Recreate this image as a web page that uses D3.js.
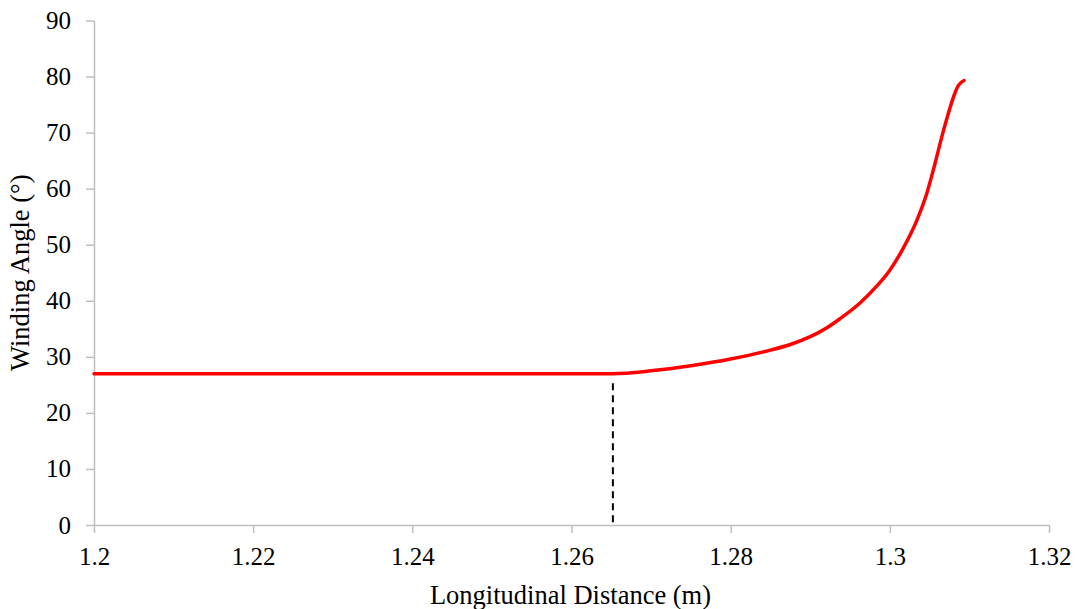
<!DOCTYPE html>
<html>
<head>
<meta charset="utf-8">
<script src="https://cdn.jsdelivr.net/npm/d3@7"></script>
<style>
  body { margin: 0; background: #fff; }
</style>
</head>
<body>
<script>
// winding angle along the mandrel
const distance = [1.2, 1.2652, 1.27, 1.275, 1.28, 1.285, 1.2875, 1.29, 1.2921, 1.29374, 1.29625, 1.29835, 1.30002, 1.30169, 1.30338, 1.30463, 1.30568, 1.30652, 1.30735, 1.30798, 1.3086, 1.30932];
const angle    = [27,  27,     27.5, 28.4,  29.6, 31.2,  32.2,   33.6, 35.2,   36.8,    39.6,    42.6,    45.5,    49.4,    54.3,    59.1,    64.5,    69.2,    73.4,    76.3,    78.4,   79.3];
const guideX = 1.2652;
const guideTop = 25.3;
const xTicks = [1.2, 1.22, 1.24, 1.26, 1.28, 1.3, 1.32];
const yTicks = [0, 10, 20, 30, 40, 50, 60, 70, 80, 90];

const font = "'Liberation Serif', 'Times New Roman', serif";
const w = 1078, h = 609;
const svg = d3.select("body").append("svg").attr("width", w).attr("height", h);

const x = d3.scaleLinear().domain([1.2, 1.32]).range([94, 1049]);
const y = d3.scaleLinear().domain([0, 90]).range([525, 20.5]);

const axisColor = "#bfbfbf";

const xAxis = svg.append("g")
  .attr("transform", `translate(0,${y(0)})`)
  .call(d3.axisBottom(x).tickValues(xTicks).tickFormat(d => String(+d.toFixed(2))).tickSizeInner(8).tickSizeOuter(0).tickPadding(14));
xAxis.selectAll("path, line").attr("stroke", axisColor).attr("stroke-width", 1.5);
xAxis.selectAll("text").attr("fill", "#000").style("font-family", font).style("font-size", "25px");

const yAxis = svg.append("g")
  .attr("transform", `translate(${x(1.2)},0)`)
  .call(d3.axisLeft(y).tickValues(yTicks).tickSizeInner(8).tickSizeOuter(0).tickPadding(15));
yAxis.selectAll("path, line").attr("stroke", axisColor).attr("stroke-width", 1.5);
yAxis.selectAll("text").attr("fill", "#000").style("font-family", font).style("font-size", "25px");

// dashed guide where the angle starts to change
svg.append("line")
  .attr("x1", x(guideX)).attr("x2", x(guideX))
  .attr("y1", y(guideTop)).attr("y2", y(0))
  .attr("stroke", "#000").attr("stroke-width", 2).attr("stroke-dasharray", "7,5");

const pts = distance.map((d, i) => [d, angle[i]]);
svg.append("path")
  .datum(pts)
  .attr("fill", "none")
  .attr("stroke", "#ff0000")
  .attr("stroke-width", 3.5)
  .attr("stroke-linecap", "round")
  .attr("d", d3.line().x(d => x(d[0])).y(d => y(d[1])).curve(d3.curveMonotoneX));

svg.append("text")
  .attr("x", (x(1.2) + x(1.32)) / 2 - 1)
  .attr("y", 604)
  .attr("text-anchor", "middle")
  .style("font-family", font)
  .style("font-size", "26.5px")
  .text("Longitudinal Distance (m)");

svg.append("text")
  .attr("transform", `translate(29,${(y(0) + y(90)) / 2}) rotate(-90)`)
  .attr("text-anchor", "middle")
  .style("font-family", font)
  .style("font-size", "26.5px")
  .text("Winding Angle (°)");
</script>
</body>
</html>
